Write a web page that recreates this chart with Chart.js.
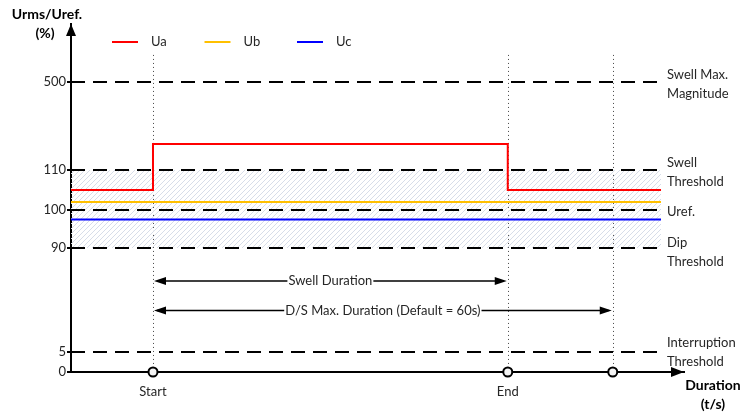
<!DOCTYPE html>
<html><head><meta charset="utf-8">
<script src="https://cdn.jsdelivr.net/npm/chart.js@4.4.0/dist/chart.umd.min.js"></script>
<style>html,body{margin:0;padding:0;background:#fff;overflow:hidden}#wrap{width:743px;height:412px;position:relative}</style>
</head><body><div id="wrap"><canvas id="c" width="743" height="412"></canvas></div>
<script>
// ---------- data ----------
const seriesNames = ['Ua', 'Ub', 'Uc'];
const seriesColors = ['#ff0000', '#ffc000', '#0000ff'];
const timeValues = [0, 10.7, 10.7, 57, 57, 77];
const uaValues = [105, 105, 225, 225, 105, 105];
const ubValues = [102, 102, 102, 102, 102, 102];
const ucValues = [97.5, 97.5, 97.5, 97.5, 97.5, 97.5];
const thresholdValues = [500, 110, 100, 90, 5];
const thresholdLabels = [['Swell Max.', 'Magnitude'], ['Swell', 'Threshold'], ['Uref.'], ['Dip', 'Threshold'], ['Interruption', 'Threshold']];
const thresholdEnd = 77;
const yTickValues = [0, 5, 90, 100, 110, 500];
const eventTimes = [10.7, 57, 70.7];
const eventLabels = ['Start', 'End', ''];
const arrowLabels = ['Swell Duration', 'D/S Max. Duration (Default = 60s)'];
const arrowStarts = [10.7, 10.7];
const arrowEnds = [57, 70.7];
const arrowLevels = [63, 39];
const guideTopValue = 620;

// ---------- broken (piecewise) y scale definition ----------
const knotValues = [0, 5, 90, 100, 110, 500];
const knotUnits = [0, 20, 124, 162, 202, 290];
const UNIT_MAX = 348;
function toUnits(v) {
  const n = knotValues.length;
  let i = 0;
  while (i < n - 2 && v > knotValues[i + 1]) i++;
  const t = (v - knotValues[i]) / (knotValues[i + 1] - knotValues[i]);
  return knotUnits[i] + t * (knotUnits[i + 1] - knotUnits[i]);
}
function fromUnits(u) {
  const n = knotUnits.length;
  let i = 0;
  while (i < n - 2 && u > knotUnits[i + 1]) i++;
  const t = (u - knotUnits[i]) / (knotUnits[i + 1] - knotUnits[i]);
  return knotValues[i] + t * (knotValues[i + 1] - knotValues[i]);
}
class BrokenLinearScale extends Chart.LinearScale {
  static id = 'brokenLinear';
  static defaults = {};
  determineDataLimits() { this.min = 0; this.max = UNIT_MAX; }
  buildTicks() { return yTickValues.map(v => ({ value: v })); }
  getPixelForValue(value) { return super.getPixelForValue(toUnits(value)); }
  getValueForPixel(pixel) { return fromUnits(super.getValueForPixel(pixel)); }
}
Chart.register(BrokenLinearScale);

const FONT = 'Lato, "Open Sans", sans-serif';
const TEXT = '#262626';

// hatch pattern
function makeHatch() {
  const c = document.createElement('canvas');
  c.width = 5; c.height = 5;
  const g = c.getContext('2d');
  g.strokeStyle = '#d7dde9';
  g.lineWidth = 1;
  g.beginPath();
  g.moveTo(0, 5); g.lineTo(5, 0);
  g.moveTo(-1, 1); g.lineTo(1, -1);
  g.moveTo(4, 6); g.lineTo(6, 4);
  g.stroke();
  return g.createPattern(c, 'repeat');
}
const hatch = makeHatch();

function pts(vals) { return timeValues.map((t, i) => ({ x: t, y: vals[i] })); }

const datasets = [
  { label: 'markers', type: 'scatter', data: eventTimes.map(t => ({ x: t, y: 0 })), pointRadius: 4.5, pointBackgroundColor: '#f4f4f4', pointBorderColor: '#000', pointBorderWidth: 2, clip: false, showLine: false },
  { label: seriesNames[0], data: pts(uaValues), borderColor: seriesColors[0], borderWidth: 2, pointRadius: 0, fill: false },
  { label: seriesNames[1], data: pts(ubValues), borderColor: seriesColors[1], borderWidth: 2, pointRadius: 0, fill: false },
  { label: seriesNames[2], data: pts(ucValues), borderColor: seriesColors[2], borderWidth: 2, pointRadius: 0, fill: false }
];
const thrStart = datasets.length;
thresholdValues.forEach((v, k) => {
  datasets.push({
    label: 'thr' + v,
    data: [{ x: 0, y: v }, { x: thresholdEnd, y: v }],
    borderColor: '#000', borderWidth: 2, borderDash: [14, 8], pointRadius: 0,
    fill: false
  });
});
// hatched band between dip (90) and swell (110) thresholds
const idx90 = thrStart + thresholdValues.indexOf(90);
datasets.push({
  label: 'band', data: [{ x: 0, y: 110 }, { x: thresholdEnd, y: 110 }],
  borderWidth: 0, borderColor: 'rgba(0,0,0,0)', pointRadius: 0,
  fill: { target: idx90, above: hatch, below: hatch }
});

function arrowHead(ctx, x, y, dir, len, half) {
  ctx.beginPath();
  ctx.moveTo(x, y);
  ctx.lineTo(x - dir * len, y - half);
  ctx.lineTo(x - dir * len, y + half);
  ctx.closePath();
  ctx.fill();
}

const decor = {
  id: 'decor',
  beforeDatasetsDraw(chart) {
    const { ctx, chartArea, scales: { x, y } } = chart;
    ctx.save();
    ctx.strokeStyle = '#444';
    ctx.lineWidth = 1;
    ctx.setLineDash([1, 3]);
    eventTimes.forEach(t => {
      const px = Math.round(x.getPixelForValue(t)) + 0.5;
      ctx.beginPath();
      ctx.moveTo(px, y.getPixelForValue(guideTopValue));
      ctx.lineTo(px, chartArea.bottom);
      ctx.stroke();
    });
    ctx.restore();
  },
  afterDatasetsDraw(chart) {
    const { ctx, chartArea, scales: { x, y } } = chart;
    ctx.save();
    // axis arrowheads
    ctx.fillStyle = '#000';
    const ax = x.left;
    ctx.beginPath();
    ctx.moveTo(ax, chartArea.top);
    ctx.lineTo(ax - 5, chartArea.top + 12);
    ctx.lineTo(ax + 5, chartArea.top + 12);
    ctx.closePath(); ctx.fill();
    arrowHead(ctx, chartArea.right, y.bottom, 1, 13, 5);

    // duration arrows
    ctx.strokeStyle = '#000';
    ctx.lineWidth = 1.5;
    ctx.font = '13px ' + FONT;
    ctx.textAlign = 'center';
    ctx.textBaseline = 'middle';
    arrowLabels.forEach((lab, i) => {
      const x1 = x.getPixelForValue(arrowStarts[i]);
      const x2 = x.getPixelForValue(arrowEnds[i]);
      const py = y.getPixelForValue(arrowLevels[i]);
      ctx.beginPath(); ctx.moveTo(x1 + 4, py); ctx.lineTo(x2 - 4, py); ctx.stroke();
      ctx.fillStyle = '#000';
      arrowHead(ctx, x1 + 1, py, -1, 12, 4);
      arrowHead(ctx, x2 - 1, py, 1, 12, 4);
      const w = ctx.measureText(lab).width;
      const cx = (x1 + x2) / 2;
      ctx.fillStyle = '#fff';
      ctx.fillRect(cx - w / 2 - 1, py - 8, w + 2, 16);
      ctx.fillStyle = TEXT;
      ctx.fillText(lab, cx, py);
    });

    // threshold labels
    ctx.textAlign = 'left';
    thresholdValues.forEach((v, k) => {
      const lines = thresholdLabels[k];
      const py = y.getPixelForValue(v) + (v === 5 ? 0 : v === 90 ? 4 : 2);
      const lh = 19;
      lines.forEach((ln, j) => {
        ctx.fillText(ln, chartArea.right - 17, py + (j - (lines.length - 1) / 2) * lh);
      });
    });

    // legend
    seriesNames.forEach((nm, i) => {
      const lx = 112 + i * 92.5;
      const ly = 42;
      ctx.strokeStyle = seriesColors[i];
      ctx.lineWidth = 2;
      ctx.beginPath(); ctx.moveTo(lx, ly); ctx.lineTo(lx + 26, ly); ctx.stroke();
      ctx.fillStyle = TEXT;
      ctx.fillText(nm, lx + 39, ly);
    });

    // axis titles
    ctx.font = 'bold 14px ' + FONT;
    ctx.textAlign = 'center';
    ctx.fillStyle = '#000';
    ctx.fillText('Urms/Uref.', 47, 14);
    ctx.fillText('(%)', 45, 33);
    ctx.fillText('Duration', 713, 385);
    ctx.fillText('(t/s)', 713, 404);
    ctx.restore();
  }
};

new Chart(document.getElementById('c'), {
  type: 'line',
  data: { datasets },
  options: {
    responsive: false,
    animation: false,
    events: [],
    layout: { padding: { top: 24, right: 59, left: 0, bottom: 0 } },
    plugins: { legend: { display: false }, tooltip: { enabled: false }, filler: { propagate: false } },
    scales: {
      x: {
        type: 'linear', min: 0, max: 80,
        afterFit(s) { s.height = 40; },
        afterBuildTicks(s) { s.ticks = eventTimes.map(v => ({ value: v })); },
        grid: { display: false, drawTicks: false },
        border: { display: true, color: '#000', width: 2 },
        ticks: { autoSkip: false, maxRotation: 0, padding: 12, color: TEXT, font: { family: FONT, size: 13 },
          callback: (v, i) => eventLabels[i] }
      },
      y: {
        type: 'brokenLinear',
        afterFit(s) { s.width = 71; },
        grid: { display: true, drawOnChartArea: false, drawTicks: true, tickLength: 4, color: '#000', lineWidth: 2 },
        border: { display: true, color: '#000', width: 2 },
        ticks: { padding: 1, color: TEXT, font: { family: FONT, size: 13 }, callback: (v) => String(v) }
      }
    }
  },
  plugins: [decor]
});
</script>
</body></html>
